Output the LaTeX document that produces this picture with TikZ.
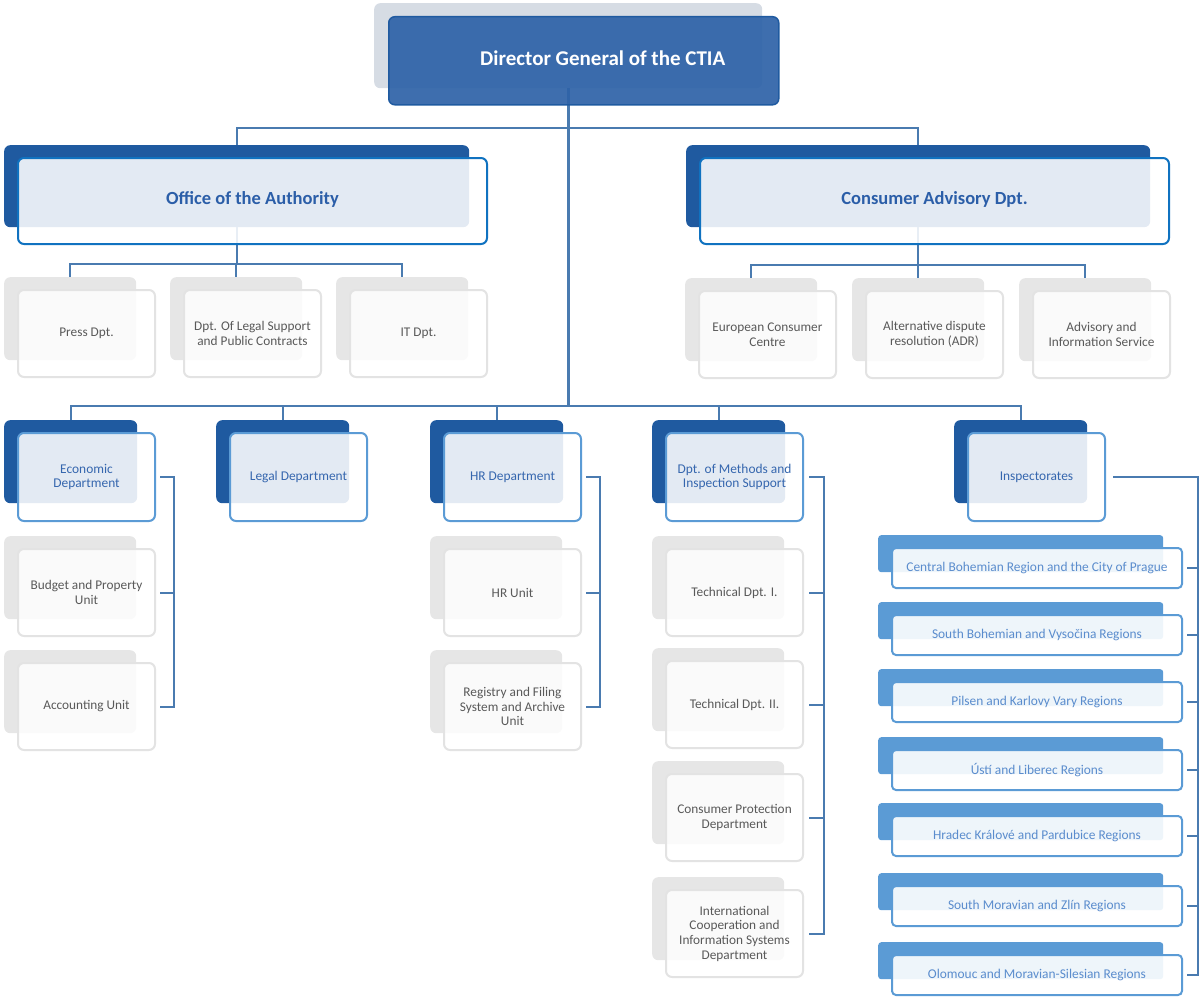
\documentclass[tikz,border=0pt]{standalone}
\usepackage{fontspec}
\setmainfont{Carlito}
\usepackage{tikz}

\definecolor{ctiaDark}{HTML}{1F5AA0}
\definecolor{dirGray}{HTML}{D6DCE4}
\definecolor{dirBlue}{HTML}{2F63A8}
\definecolor{headLine}{HTML}{1072C0}
\definecolor{headText}{HTML}{2B5EA8}
\definecolor{deptLine}{HTML}{5B9BD5}
\definecolor{deptText}{HTML}{3566AE}
\definecolor{regText}{HTML}{5A8CCD}
\definecolor{unitGray}{HTML}{E6E6E6}
\definecolor{unitLine}{HTML}{E3E3E3}
\definecolor{unitText}{HTML}{595959}
\definecolor{connBlue}{HTML}{4A7BB0}

\begin{document}
\begin{tikzpicture}[x=1pt,y=-1pt,
    box/.style={rounded corners=6pt, anchor=north west, inner sep=0pt, align=center},
    dirback/.style={box, fill=dirGray, minimum width=388pt, minimum height=85pt},
    dirfront/.style={box, fill=dirBlue, fill opacity=0.93, text opacity=1, draw=ctiaDark, line width=1.5pt,
        minimum width=390pt, minimum height=88pt, text=white, font=\fontsize{21}{25}\selectfont\bfseries},
    headback/.style={box, fill=ctiaDark, minimum width=465pt, minimum height=82pt},
    headfront/.style={box, fill=white, fill opacity=0.88, text opacity=1, draw=headLine, line width=2pt,
        minimum width=469pt, minimum height=86pt, text=headText, font=\fontsize{18.5}{22}\selectfont\bfseries},
    grayback/.style={box, fill=unitGray, minimum width=132pt, minimum height=83pt},
    grayfront/.style={box, fill=white, fill opacity=0.82, text opacity=1, draw=unitLine, line width=2pt,
        minimum width=137pt, minimum height=87pt, text=unitText, font=\fontsize{13.3}{14.7}\selectfont},
    deptback/.style={box, fill=ctiaDark, minimum width=133pt, minimum height=83pt},
    deptfront/.style={box, fill=white, fill opacity=0.88, text opacity=1, draw=deptLine, line width=2pt,
        minimum width=137pt, minimum height=88pt, text=deptText, font=\fontsize{13.4}{14.8}\selectfont},
    regback/.style={box, rounded corners=3pt, fill=deptLine, minimum width=285pt, minimum height=37pt},
    regfront/.style={box, rounded corners=4pt, fill=white, fill opacity=0.9, text opacity=1, draw=deptLine, line width=2pt,
        minimum width=290pt, minimum height=40pt, text=regText, font=\fontsize{13.4}{15}\selectfont},
    conn/.style={draw=connBlue, line width=2pt},
    ]
    \useasboundingbox (0,0) rectangle (1200,998);

    \node[dirback] (dirb) at (374,3) {};
    \node[headback] (officeb) at (4,145) {};
    \node[headback, minimum width=464pt] (consb) at (686,145) {};
    \node[grayback] (pressb) at (4,277) {};
    \node[grayback] (legsupb) at (170,277) {};
    \node[grayback] (itb) at (336,277) {};
    \node[grayback] (eccb) at (685,278) {};
    \node[grayback] (adrb) at (852,278) {};
    \node[grayback] (advb) at (1019,278) {};
    \node[deptback] (econb) at (4,420) {};
    \node[deptback] (legalb) at (216,420) {};
    \node[deptback] (hrb) at (430,420) {};
    \node[deptback] (methb) at (652,420) {};
    \node[deptback] (inspb) at (954,420) {};
    \node[grayback] (budgetb) at (4,536) {};
    \node[grayback] (acctb) at (4,650) {};
    \node[grayback] (hrunitb) at (430,536) {};
    \node[grayback] (registryb) at (430,650) {};
    \node[grayback] (techib) at (652,536) {};
    \node[grayback] (techiib) at (652,648) {};
    \node[grayback] (cpdb) at (652,761) {};
    \node[grayback] (icisb) at (652,877) {};
    \node[regback] (centralb) at (878,535) {};
    \node[regback] (sbohb) at (878,602) {};
    \node[regback] (pilsenb) at (878,669) {};
    \node[regback] (ustib) at (878,737) {};
    \node[regback] (hradecb) at (878,803) {};
    \node[regback] (smorb) at (878,873) {};
    \node[regback] (olomb) at (878,942) {};

    \coordinate (bus) at ([yshift=14pt]econb.north);
    \draw[conn, line width=3pt] (dirb.south) -- (dirb.south |- bus);
    \foreach \n in {officeb, consb}
        \draw[conn] (dirb.south) |- ([yshift=17pt]\n.north) -- (\n.north);
    \foreach \n in {econb, legalb, hrb, methb, inspb}
        \draw[conn] (dirb.south |- bus) -| (\n.north);
    \foreach \n in {pressb, legsupb, itb}
        \draw[conn] (officeb.south) |- ([yshift=13pt]\n.north) -- (\n.north);
    \foreach \n in {eccb, adrb, advb}
        \draw[conn] (consb.south) |- ([yshift=13pt]\n.north) -- (\n.north);

    \node[dirfront] (dir) at ([shift={(14,13)}]dirb.north west) {\raisebox{6pt}{\hspace*{38pt}Director General of the CTIA}};
    \node[headfront] (office) at ([shift={(13,12)}]officeb.north west) {\raisebox{6pt}{Office of the Authority}};
    \node[headfront] (cons) at ([shift={(13,12)}]consb.north west) {\raisebox{6pt}{Consumer Advisory Dpt.}};
    \node[grayfront] (press) at ([shift={(13,12)}]pressb.north west) {Press Dpt.};
    \node[grayfront] (legsup) at ([shift={(13,12)}]legsupb.north west) {Dpt. Of Legal Support\\and Public Contracts};
    \node[grayfront] (it) at ([shift={(13,12)}]itb.north west) {IT Dpt.};
    \node[grayfront] (ecc) at ([shift={(13,12)}]eccb.north west) {European Consumer\\Centre};
    \node[grayfront] (adr) at ([shift={(13,12)}]adrb.north west) {Alternative dispute\\resolution (ADR)};
    \node[grayfront] (adv) at ([shift={(13,12)}]advb.north west) {Advisory and\\Information Service};
    \node[deptfront] (econ) at ([shift={(13,12)}]econb.north west) {Economic\\Department};
    \node[deptfront] (legal) at ([shift={(13,12)}]legalb.north west) {Legal Department};
    \node[deptfront] (hr) at ([shift={(13,12)}]hrb.north west) {HR Department};
    \node[deptfront] (meth) at ([shift={(13,12)}]methb.north west) {Dpt. of Methods and\\Inspection Support};
    \node[deptfront] (insp) at ([shift={(13,12)}]inspb.north west) {Inspectorates};
    \node[grayfront] (budget) at ([shift={(13,12)}]budgetb.north west) {Budget and Property\\Unit};
    \node[grayfront] (acct) at ([shift={(13,12)}]acctb.north west) {Accounting Unit};
    \node[grayfront] (hrunit) at ([shift={(13,12)}]hrunitb.north west) {HR Unit};
    \node[grayfront] (registry) at ([shift={(13,12)}]registryb.north west) {Registry and Filing\\System and Archive\\Unit};
    \node[grayfront] (techi) at ([shift={(13,12)}]techib.north west) {Technical Dpt. I.};
    \node[grayfront] (techii) at ([shift={(13,12)}]techiib.north west) {Technical Dpt. II.};
    \node[grayfront] (cpd) at ([shift={(13,12)}]cpdb.north west) {Consumer Protection\\Department};
    \node[grayfront] (icis) at ([shift={(13,12)}]icisb.north west) {International\\Cooperation and\\Information Systems\\Department};
    \node[regfront] (central) at ([shift={(13,12)}]centralb.north west) {Central Bohemian Region and the City of Prague};
    \node[regfront] (sboh) at ([shift={(13,12)}]sbohb.north west) {South Bohemian and Vysočina Regions};
    \node[regfront] (pilsen) at ([shift={(13,12)}]pilsenb.north west) {Pilsen and Karlovy Vary Regions};
    \node[regfront] (usti) at ([shift={(13,12)}]ustib.north west) {Ústí and Liberec Regions};
    \node[regfront] (hradec) at ([shift={(13,12)}]hradecb.north west) {Hradec Králové and Pardubice Regions};
    \node[regfront] (smor) at ([shift={(13,12)}]smorb.north west) {South Moravian and Zlín Regions};
    \node[regfront] (olom) at ([shift={(13,12)}]olomb.north west) {Olomouc and Moravian-Silesian Regions};

    \coordinate (econbar) at ([xshift=18pt]econ.east);
    \draw[conn] ([xshift=4pt]econ.east) -- (econbar) |- ([xshift=4pt]acct.east);
    \draw[conn] ([xshift=4pt]budget.east) -- (econbar |- budget.east);
    \coordinate (hrbar) at ([xshift=18pt]hr.east);
    \draw[conn] ([xshift=4pt]hr.east) -- (hrbar) |- ([xshift=4pt]registry.east);
    \draw[conn] ([xshift=4pt]hrunit.east) -- (hrbar |- hrunit.east);
    \coordinate (methbar) at ([xshift=20pt]meth.east);
    \draw[conn] ([xshift=5pt]meth.east) -- (methbar) |- ([xshift=5pt]icis.east);
    \foreach \n in {techi, techii, cpd}
        \draw[conn] ([xshift=5pt]\n.east) -- (methbar |- \n.east);
    \coordinate (inspbar) at ([xshift=92pt]insp.east);
    \draw[conn] ([xshift=7pt]insp.east) -- (inspbar) |- ([xshift=4pt]olom.east);
    \foreach \n in {central, sboh, pilsen, usti, hradec, smor}
        \draw[conn] ([xshift=4pt]\n.east) -- (inspbar |- \n.east);
\end{tikzpicture}
\end{document}
